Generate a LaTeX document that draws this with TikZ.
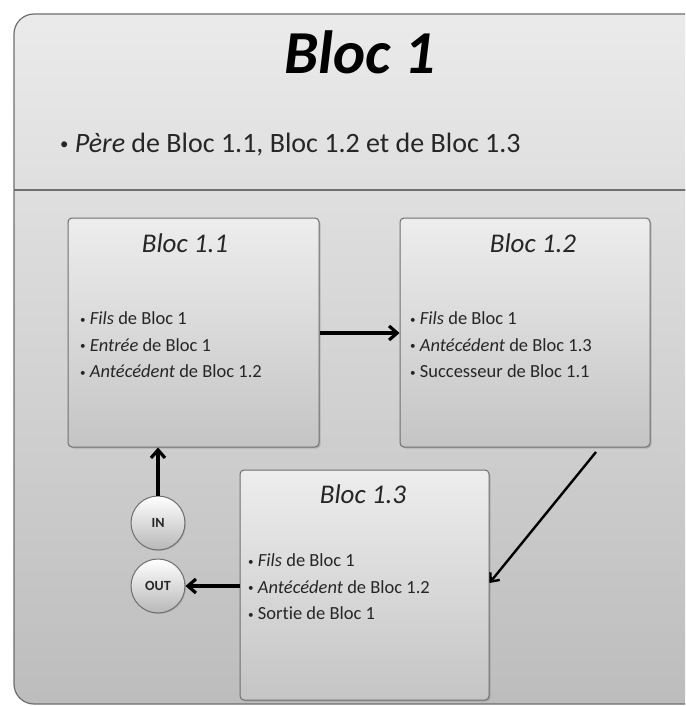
\documentclass[tikz,border=0pt]{standalone}
\usepackage{fontspec}
\setmainfont{Carlito}[Ligatures=NoCommon]
\usetikzlibrary{arrows.meta,shadows,calc}
\definecolor{txt}{HTML}{262626}
\definecolor{edge}{HTML}{6E6E6E}
\tikzset{
  outerbox/.style={draw=edge, line width=1.2pt, rounded corners=20pt, top color=white!92!black, bottom color=white!74!black},
  blocbox/.style={draw=edge, line width=1pt, rounded corners=4pt, minimum width=#1, minimum height=229pt, inner sep=0pt,
     top color=white!93!black, bottom color=white!77!black,
     drop shadow={shadow xshift=1.5pt, shadow yshift=-1.5pt, opacity=0.35}},
  bloctitle/.style={font=\fontsize{27}{27}\selectfont\itshape, text=txt, inner sep=0pt},
  bullets/.style={font=\fontsize{18.5}{26.5}\selectfont, text=txt, align=left, anchor=west, inner sep=0pt},
  port/.style={circle, draw=edge, line width=1pt, minimum size=54pt, inner sep=0pt,
     top color=white, bottom color=white!72!black,
     font=\fontsize{14}{14}\selectfont\bfseries, text=txt,
     drop shadow={shadow xshift=1pt, shadow yshift=-1pt, opacity=0.3}},
  conn/.style={line width=3.6pt, -{Straight Barb[length=8pt, width=14pt, line width=3.2pt]}},
  thinconn/.style={line width=2.4pt, -{Straight Barb[length=7pt, width=12pt, line width=2.4pt]}}
}
\newcommand{\bul}{{\fontsize{0.6em}{1em}\selectfont\raisebox{0.15em}{\textbullet}}\ }
\begin{document}
\begin{tikzpicture}[x=1pt, y=-1pt]
\useasboundingbox (0,0) rectangle (685,706);
\begin{scope}
\clip (0,0) rectangle (685,706);
\draw[outerbox] (14,14) rectangle (720,704);
\draw[draw=edge, line width=1.2pt] (14,190) -- (720,190);
\end{scope}
\node[font=\fontsize{61}{61}\selectfont\bfseries\itshape, text=black, inner sep=0pt] (title) at (360,52) {Bloc 1};
\node[font=\fontsize{28}{28}\selectfont, text=txt, anchor=base west, inner sep=0pt] (pere) at (60,152) {\bul\textit{Père} de Bloc 1.1, Bloc 1.2 et de Bloc 1.3};

\node[blocbox=251pt] (b11) at (193.5,332.5) {};
\node[blocbox=250pt] (b12) at (525,332.5) {};
\node[blocbox=249pt, minimum height=230pt] (b13) at (364.5,585) {};

\node[bloctitle] (t11) at (185,243) {Bloc 1.1};
\node[bloctitle] (t12) at (533,243) {Bloc 1.2};
\node[bloctitle] (t13) at (363,494) {Bloc 1.3};

\node[bullets] (l11) at (80,345) {\bul\textit{Fils} de Bloc 1\\\bul\textit{Entrée} de Bloc 1\\\bul\textit{Antécédent} de Bloc 1.2};
\node[bullets] (l12) at (410,345) {\bul\textit{Fils} de Bloc 1\\\bul\textit{Antécédent} de Bloc 1.3\\\bul Successeur de Bloc 1.1};
\node[bullets] (l13) at (248,587) {\bul\textit{Fils} de Bloc 1\\\bul\textit{Antécédent} de Bloc 1.2\\\bul Sortie de Bloc 1};

\node[port] (in) at (158,523) {IN};
\node[port] (out) at (158,586) {OUT};

\draw[conn] (b11.east |- 0,333) -- (b12.west |- 0,333);
\coordinate (d1) at (596,452);
\draw[thinconn] (d1) -- (b13.east |- 0,583);
\draw[conn] (in.north) -- (b11.south -| in.north);
\draw[conn] (b13.west |- out.east) -- (out.east);
\end{tikzpicture}
\end{document}
